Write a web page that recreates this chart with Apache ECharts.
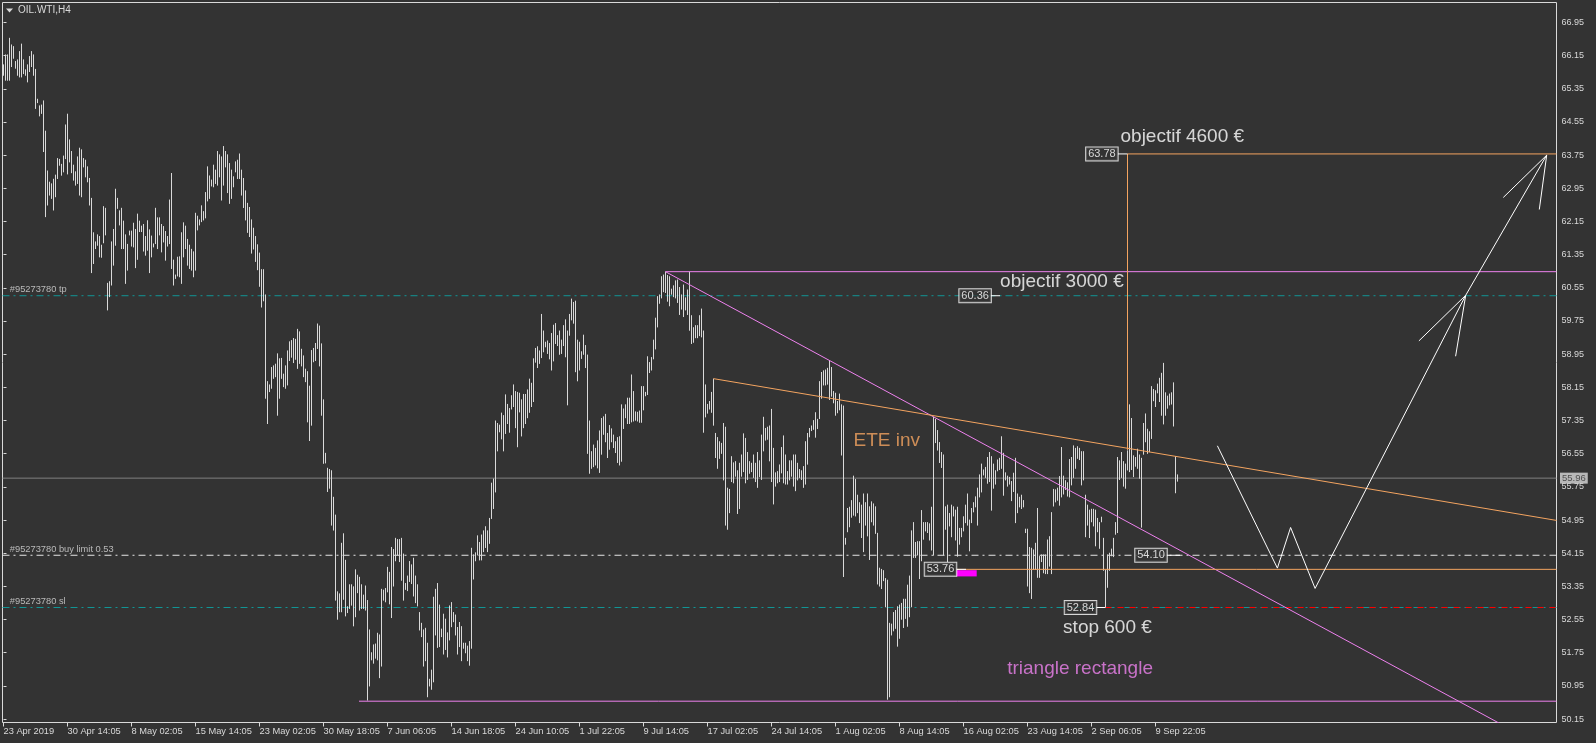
<!DOCTYPE html>
<html><head><meta charset="utf-8">
<script src="https://cdn.jsdelivr.net/npm/echarts@6/dist/echarts.min.js"></script>
<style>html,body{margin:0;padding:0;background:#333333;}#c{width:1596px;height:743px;}</style>
</head><body><div id="c"></div>
<script>
// ---- data ----
const tickBars = [0,32,64,96,128,160,192,224,256,288,320,352,384,416,448,480,512,544,576];
const tickLabels = ["23 Apr 2019","30 Apr 14:05","8 May 02:05","15 May 14:05","23 May 02:05","30 May 18:05","7 Jun 06:05","14 Jun 18:05","24 Jun 10:05","1 Jul 22:05","9 Jul 14:05","17 Jul 02:05","24 Jul 14:05","1 Aug 02:05","8 Aug 14:05","16 Aug 02:05","23 Aug 14:05","2 Sep 06:05","9 Sep 22:05"];
const priceTicks = [50.15,50.95,51.75,52.55,53.35,54.15,54.95,55.75,56.55,57.35,58.15,58.95,59.75,60.55,61.35,62.15,62.95,63.75,64.55,65.35,66.15,66.95];

const highs = [
65.94,66.18,66.18,66.58,66.42,66.38,66.02,66.06,66.26,66.44,66.06,65.82,65.94,66.14,66.26,66.18,65.83,65.11,64.95,64.97,
65.07,64.34,63.38,63.11,63.07,63.18,63.28,63.68,63.66,63.54,63.74,64.49,64.75,64.13,63.85,63.52,63.36,63.72,63.93,63.89,
63.68,63.64,63.48,63.20,62.72,61.89,61.67,61.84,61.80,61.59,62.52,62.48,60.67,60.71,61.67,61.97,62.94,62.72,62.42,62.48,
62.17,61.84,61.61,61.93,61.93,62.12,61.97,62.34,62.17,62.05,62.09,61.80,62.18,61.96,61.81,61.62,62.48,62.25,62.25,62.09,
62.04,61.92,61.80,62.68,63.32,61.23,60.87,61.30,61.31,61.89,62.13,62.05,61.73,61.59,61.49,61.43,62.36,62.29,62.20,62.54,
62.40,62.86,63.48,63.26,63.16,63.52,63.40,63.85,63.77,63.72,63.97,63.85,63.77,63.56,63.40,63.24,63.60,63.64,63.79,63.40,
63.20,62.90,62.60,62.50,62.20,62.00,61.80,61.60,61.40,61.00,61.00,60.39,58.30,58.22,58.64,58.68,58.72,58.97,58.85,58.86,
58.48,58.68,59.04,59.26,59.29,59.34,59.32,59.56,59.50,59.08,58.92,58.60,58.54,58.19,59.05,59.10,59.22,59.69,59.64,59.21,
57.86,56.57,56.21,56.18,56.15,55.51,55.08,53.23,53.18,54.40,54.63,53.99,52.87,53.40,53.40,53.35,53.76,53.63,53.58,53.40,
53.15,53.37,53.02,52.31,51.76,51.95,51.97,52.23,52.19,53.29,53.27,53.31,53.82,53.70,54.30,54.25,54.52,54.49,54.49,54.52,
54.14,53.43,53.61,53.96,53.88,54.04,53.61,53.40,52.73,52.47,52.31,52.35,51.99,51.12,51.34,53.10,53.29,53.43,52.91,52.33,
52.69,52.57,52.24,52.89,52.97,52.73,52.67,52.37,52.49,52.39,51.99,51.99,51.92,52.03,54.28,54.12,54.17,54.58,54.42,54.60,
54.70,54.80,54.70,55.00,55.85,55.95,57.35,57.29,57.25,57.54,57.48,57.98,57.75,57.65,57.96,58.22,58.06,58.04,58.02,57.86,
57.99,57.99,58.10,58.36,58.26,58.85,59.10,59.14,59.04,59.92,59.52,59.25,59.28,59.22,59.46,59.66,59.70,59.41,59.52,59.30,
59.65,59.79,59.52,59.92,60.29,60.21,60.24,59.30,59.25,59.02,59.42,59.17,58.94,57.35,56.61,56.77,56.69,56.87,57.11,57.41,
57.45,57.51,57.05,57.24,57.16,57.01,56.85,56.95,56.97,57.74,57.64,57.74,57.90,57.90,58.46,58.06,57.57,57.56,57.59,58.18,
58.18,58.04,58.90,58.76,58.88,59.30,59.83,60.35,60.39,60.83,60.87,60.94,60.86,60.83,60.53,60.61,60.73,60.75,60.57,60.39,
60.63,60.32,60.51,60.94,59.89,59.60,59.65,59.65,59.89,60.05,59.52,58.22,57.75,57.82,58.04,58.36,57.05,56.95,56.85,56.81,
57.29,57.20,55.73,55.70,56.49,56.34,56.37,56.15,56.33,56.53,57.04,56.93,56.59,56.37,56.33,56.53,56.33,56.59,56.39,57.01,
57.44,57.17,57.20,57.23,57.63,56.69,56.10,56.13,56.29,56.71,56.99,56.53,56.13,56.39,56.39,56.53,56.53,56.33,56.18,56.15,
56.25,56.85,57.05,57.17,57.23,57.36,57.55,57.39,58.30,58.52,58.56,58.58,58.62,58.80,58.64,58.06,58.02,57.82,58.00,57.74,
57.71,54.52,55.24,55.27,55.43,56.02,55.94,55.56,55.38,55.32,55.59,55.38,55.59,55.28,55.40,55.35,55.28,54.64,53.80,53.77,
53.74,53.55,53.51,52.47,52.45,52.73,52.78,52.87,52.91,52.95,53.05,53.05,53.39,53.61,54.70,54.90,54.42,54.44,54.44,55.19,
54.90,54.90,54.90,54.87,55.27,57.44,57.39,57.12,56.83,56.59,56.53,55.28,55.32,55.12,55.32,55.28,55.20,55.27,54.76,54.76,
55.04,55.32,55.59,54.96,55.24,55.38,55.52,55.73,56.05,56.31,56.17,56.23,56.47,56.59,56.49,56.31,56.15,56.41,56.45,56.97,
56.57,56.10,56.02,55.99,55.89,56.09,56.45,55.59,55.51,55.56,55.43,54.74,54.74,54.30,54.28,54.24,54.40,55.24,54.08,54.12,
54.12,54.12,54.48,54.56,55.14,55.70,55.69,55.73,56.01,56.71,56.02,55.91,55.86,56.42,56.47,56.75,56.69,56.73,56.69,56.61,
56.61,55.56,55.32,55.20,55.22,55.22,55.20,55.00,54.90,55.03,54.52,53.75,54.12,54.16,54.26,54.52,54.90,56.47,56.39,56.59,
56.37,56.31,56.63,57.74,57.41,56.51,56.47,56.67,56.53,56.45,57.29,57.52,57.15,57.09,58.18,58.11,58.08,58.24,58.38,58.50,
58.74,58.03,57.95,58.00,58.03,58.27,56.49,56.05
];
const lows = [
65.69,65.57,65.57,65.57,65.90,66.10,65.86,65.69,65.65,65.65,65.73,65.69,65.53,65.78,65.90,65.69,64.89,65.03,64.71,64.77,
63.85,62.28,62.56,62.80,62.72,62.44,62.76,63.20,63.52,63.28,63.36,63.68,63.31,63.60,63.34,63.16,63.04,63.08,62.80,62.76,
63.48,63.24,63.12,62.56,60.93,61.15,61.51,61.59,61.31,61.30,61.65,61.84,60.03,60.35,60.63,61.11,61.59,62.48,62.08,61.51,
61.51,60.67,60.99,61.84,61.57,61.55,61.05,61.25,61.92,61.92,61.45,61.35,61.47,60.93,61.31,61.55,61.63,61.51,61.84,61.43,
61.67,61.23,61.57,61.63,61.03,60.63,60.79,60.85,60.83,60.67,61.31,61.51,61.11,61.03,60.99,60.83,60.99,61.96,62.08,62.16,
62.20,62.25,62.66,62.72,63.02,63.00,63.08,63.04,63.24,62.68,63.04,63.48,62.86,62.60,62.72,63.00,63.36,63.20,63.20,62.80,
62.50,62.20,61.90,61.80,61.40,61.50,61.20,61.00,60.60,60.10,60.25,57.90,57.29,58.06,58.14,58.38,58.42,57.49,57.90,58.38,
58.18,58.14,58.22,58.81,58.89,58.76,58.84,58.62,58.74,58.68,58.42,58.30,57.33,56.88,57.25,58.78,58.81,59.10,58.68,57.49,
56.33,56.34,55.65,55.73,54.84,54.72,53.03,52.57,52.75,52.75,53.05,52.65,52.73,52.83,52.91,52.41,52.63,53.21,52.79,52.83,
52.83,52.79,50.62,50.96,51.59,51.51,51.63,51.59,51.16,51.44,53.03,52.99,53.23,52.94,52.61,53.37,53.98,54.12,53.96,53.51,
53.03,53.29,53.26,53.48,53.43,53.13,52.97,52.89,52.31,52.15,51.44,51.57,50.70,50.96,50.88,51.06,52.19,51.89,51.91,52.15,
51.73,51.84,51.66,52.07,52.39,52.51,52.19,51.73,51.91,51.57,51.87,51.76,51.57,51.46,51.87,53.54,53.98,54.12,54.00,54.00,
54.20,54.30,54.20,54.40,55.00,55.24,55.64,56.63,57.09,56.92,56.63,57.05,57.29,57.08,57.64,57.70,57.19,56.73,57.57,56.99,
57.19,57.29,57.43,57.56,57.70,57.82,58.77,58.64,58.74,58.88,59.02,59.14,58.98,58.85,58.58,58.80,59.22,59.17,58.96,58.98,
59.17,58.90,57.74,59.42,59.79,59.71,58.54,58.32,58.58,58.86,58.96,58.64,56.57,56.09,56.21,56.25,56.29,56.22,56.11,56.55,
57.03,56.85,56.47,56.67,56.85,56.71,56.59,56.35,56.29,56.38,57.17,57.43,57.29,57.29,57.33,57.35,57.37,57.35,57.32,57.32,
57.62,57.96,57.99,58.52,58.58,58.85,59.09,59.62,60.19,60.32,60.47,60.45,60.24,60.13,60.41,60.35,60.32,60.21,59.92,60.05,
59.87,60.03,59.92,59.54,59.22,59.25,59.36,59.36,59.41,59.38,57.08,57.45,57.54,57.64,57.56,57.25,56.47,56.21,56.45,56.57,
55.93,54.84,54.74,55.14,55.89,55.86,56.02,55.12,55.24,56.02,56.13,55.86,55.94,56.09,56.13,55.99,55.89,55.75,56.01,55.94,
56.63,56.89,56.91,56.39,55.89,55.35,55.78,55.86,55.89,56.10,55.86,55.83,55.83,55.93,56.02,55.78,55.67,55.93,55.99,55.94,
55.75,55.83,56.31,56.97,57.12,57.15,56.96,57.17,57.41,57.90,58.22,58.22,58.24,57.87,57.95,57.79,57.49,57.55,57.62,56.53,
53.60,54.38,54.68,54.80,55.03,55.08,55.06,55.14,54.90,54.54,54.20,54.84,54.58,54.01,54.92,54.84,54.64,53.42,53.37,53.31,
53.50,52.87,50.64,50.70,52.19,52.29,52.35,51.92,52.11,52.57,52.37,52.59,52.40,52.63,52.87,54.06,54.06,54.12,53.55,53.98,
54.50,54.70,54.66,54.48,54.24,54.12,56.83,56.65,56.35,56.23,54.12,54.74,53.96,54.82,54.56,55.06,54.48,54.09,54.38,54.56,
54.70,54.90,54.84,54.22,54.90,55.16,55.28,54.84,55.52,55.64,56.05,55.99,55.85,55.89,55.20,55.73,55.83,56.15,56.18,56.21,
55.56,55.93,55.78,55.83,55.43,55.65,54.90,55.14,55.28,55.24,55.28,54.66,53.37,53.21,53.07,53.77,53.77,53.58,53.58,53.96,
53.69,53.67,53.67,53.85,53.67,55.30,55.40,55.44,55.32,55.52,55.59,55.70,55.54,55.52,55.81,55.99,56.21,56.45,56.42,55.81,
55.93,54.56,54.84,54.54,54.92,54.82,54.34,54.68,54.28,54.92,53.75,52.87,53.34,53.75,54.10,54.08,54.62,54.66,55.94,55.99,
55.78,55.73,56.17,56.13,56.18,56.01,56.26,56.21,55.97,54.79,56.55,56.85,56.57,56.61,56.93,57.84,57.70,58.03,57.82,57.49,
57.28,57.49,57.66,57.74,57.76,57.23,55.62,55.90
];

// levels and drawn objects (bar index, price)
const lastPrice = 55.96;
const tpLevel = 60.36, buyLimitLevel = 54.10, slLevel = 52.84, entryLevel = 53.76, targetLevel = 63.78;
const triangleTop = 60.94, triangleBottom = 50.58;
const trendDown = [[331, 60.94], [749, 50.02]];
const eteLine = [[355, 58.36], [776.5, 54.94]];
const targetVertical = [[562, 63.78], [562, 56.64]];
const projection = [[606.95,56.74],[636.95,53.79],[643.55,54.77],[655.8,53.30],[731.1,60.37],[771.6,63.75]];
const arrowHead1 = [[707.7,59.27],[731.1,60.37],[726.05,58.90]];
const arrowHead2 = [[749.9,62.73],[771.6,63.75],[767.9,62.44]];
const entryBox = [476.3, 53.74, 486.6, 53.59];
const priceBoxes = [
  {text:'63.78', at:[549.2, 63.78]},
  {text:'60.36', at:[485.8, 60.36]},
  {text:'53.76', at:[468.5, 53.76]},
  {text:'52.84', at:[538.5, 52.84]},
  {text:'54.10', at:[573.75, 54.10]}
];
const notes = [
  {text:'objectif 4600 €', at:[558.25, 64.19], color:'#ffffff'},
  {text:'objectif 3000 €', at:[498.05, 60.69], color:'#ffffff'},
  {text:'ETE inv', at:[424.75, 56.87], color:'#f4a460'},
  {text:'stop 600 €', at:[529.55, 52.35], color:'#ffffff'},
  {text:'triangle rectangle', at:[501.6, 51.36], color:'#ee82ee'}
];
const orderNotes = [
  {text:'#95273780 tp', at:[2.9, 60.36]},
  {text:'#95273780 buy limit 0.53', at:[2.9, 54.10]},
  {text:'#95273780 sl', at:[2.9, 52.84]}
];

// ---- chart ----
const X_MIN = -0.5, X_MAX = 776.5;
const FONT = 'Liberation Sans, Arial, sans-serif';
const chart = echarts.init(document.getElementById('c'), null, {renderer:'canvas'});

function seg(points, color, width, type, z) {
  return {type:'line', data:points, symbol:'none', silent:true, animation:false, z:z||3, clip:true,
    lineStyle:{color:color, width:width||1, type:type||'solid'}};
}
const dashDot = [7,4,2,4];

const barData = highs.map((h, i) => [i, lows[i], h]);

const series = [
  seg([[X_MIN, lastPrice],[X_MAX, lastPrice]], '#808080', 1, 'solid', 1),
  seg([[X_MIN, tpLevel],[X_MAX, tpLevel]], '#119595', 1, dashDot, 1),
  seg([[X_MIN, buyLimitLevel],[X_MAX, buyLimitLevel]], '#e6e6e6', 1, dashDot, 1),
  seg([[X_MIN, slLevel],[X_MAX, slLevel]], '#119595', 1, dashDot, 1),
  seg([[551, slLevel],[X_MAX, slLevel]], '#ff0000', 1, [6,6], 1),
  {type:'custom', silent:true, animation:false, z:2, data:barData, encode:{x:0, y:[1,2]},
    renderItem:function(params, api){
      const i = api.value(0);
      const top = api.coord([i, api.value(2)]);
      const bot = api.coord([i, api.value(1)]);
      return {type:'line', shape:{x1:top[0], y1:top[1], x2:bot[0], y2:bot[1]+1},
        style:{stroke:'#d9d9d9', lineWidth:1}};
    }},
  seg([[331, triangleTop],[X_MAX, triangleTop]], '#ee82ee', 1),
  seg([[177.75, triangleBottom],[X_MAX, triangleBottom]], '#ee82ee', 1),
  seg(trendDown, '#ee82ee', 1),
  seg(eteLine, '#f4a460', 1),
  seg([[476.25, entryLevel],[X_MAX, entryLevel]], '#f4a460', 1),
  seg([[562, targetLevel],[X_MAX, targetLevel]], '#f4a460', 1),
  seg(targetVertical, '#f4a460', 1),
  seg([[476.25, entryLevel],[481.25, entryLevel]], '#ffffff', 1, 'solid', 4),
  seg([[546.3, slLevel],[551, slLevel]], '#ffffff', 1, 'solid', 4),
  seg([[493.25, tpLevel],[498.25, tpLevel]], '#ffffff', 1, 'solid', 4),
  seg([[557.25, targetLevel],[562, targetLevel]], '#ffffff', 1, 'solid', 4),
  seg([[581.25, buyLimitLevel],[588.25, buyLimitLevel]], '#ffffff', 1, 'solid', 4),
  seg(projection, '#ffffff', 1, 'solid', 5),
  seg(arrowHead1, '#ffffff', 1, 'solid', 5),
  seg(arrowHead2, '#ffffff', 1, 'solid', 5),
  {type:'custom', silent:true, animation:false, z:4, data:[entryBox], encode:{x:[0,2], y:[1,3]},
    renderItem:function(params, api){
      const a = api.coord([api.value(0), api.value(1)]);
      const b = api.coord([api.value(2), api.value(3)]);
      return {type:'rect', shape:{x:a[0], y:a[1], width:b[0]-a[0], height:b[1]-a[1]}, style:{fill:'#ff00ff'}};
    }},
  {type:'scatter', silent:true, animation:false, z:10, symbolSize:1, itemStyle:{color:'rgba(0,0,0,0)'},
    data: priceBoxes.map(b => ({value:b.at, label:{show:true, position:'inside', formatter:b.text,
      color:'#ffffff', fontSize:11, fontFamily:FONT, backgroundColor:'#333333', borderColor:'#ffffff',
      borderWidth:1, padding:[2,2,0,2]}}))},
  {type:'scatter', silent:true, animation:false, z:10, symbolSize:1, itemStyle:{color:'rgba(0,0,0,0)'},
    data: notes.map(n => ({value:n.at, label:{show:true, position:'right', distance:0, formatter:n.text,
      color:n.color, fontSize:19, fontFamily:FONT}}))},
  {type:'scatter', silent:true, animation:false, z:10, symbolSize:1, itemStyle:{color:'rgba(0,0,0,0)'},
    data: orderNotes.map(n => ({value:n.at, label:{show:true, position:'right', distance:0, offset:[0,-6],
      formatter:n.text, color:'#d9d9d9', fontSize:9.3, fontFamily:FONT}}))},
  {type:'scatter', silent:true, animation:false, z:10, symbolSize:1, itemStyle:{color:'rgba(0,0,0,0)'},
    data: [{value:[X_MAX, lastPrice], label:{show:true, position:'right', distance:3, formatter:lastPrice.toFixed(2),
      color:'#333333', fontSize:9.5, fontFamily:FONT, backgroundColor:'#d9d9d9', padding:[1,2,0,2]}}]}
];

chart.setOption({
  backgroundColor:'#333333',
  animation:false,
  title:{text:'OIL.WTI,H4', left:18, top:5.5, padding:0,
    textStyle:{color:'#d9d9d9', fontSize:10, fontWeight:'normal', fontFamily:FONT}},
  graphic:[{type:'polygon', shape:{points:[[6,8.5],[13,8.5],[9.5,12.5]]}, style:{fill:'#d9d9d9'}}],
  grid:{left:2.5, right:39.5, top:2.5, bottom:20.5, show:true, borderColor:'#d9d9d9', borderWidth:1, backgroundColor:'transparent'},
  xAxis:{type:'value', min:X_MIN, max:X_MAX, axisLine:{show:false}, splitLine:{show:false},
    axisTick:{show:true, customValues:tickBars, length:4, lineStyle:{color:'#d9d9d9'}},
    axisLabel:{customValues:tickBars, formatter:function(v){return tickLabels[Math.round(v/32)] || '';},
      color:'#d9d9d9', fontSize:9.3, fontFamily:FONT, align:'left', verticalAlign:'top', margin:4}},
  yAxis:{type:'value', position:'right', min:50.0663, max:67.4324, axisLine:{show:false}, splitLine:{show:false},
    axisTick:{show:true, customValues:priceTicks, length:3, lineStyle:{color:'#d9d9d9'}},
    axisLabel:{customValues:priceTicks, formatter:function(v){return v.toFixed(2);},
      color:'#d9d9d9', fontSize:9, fontFamily:FONT, margin:5}},
  series:series
});
</script></body></html>
